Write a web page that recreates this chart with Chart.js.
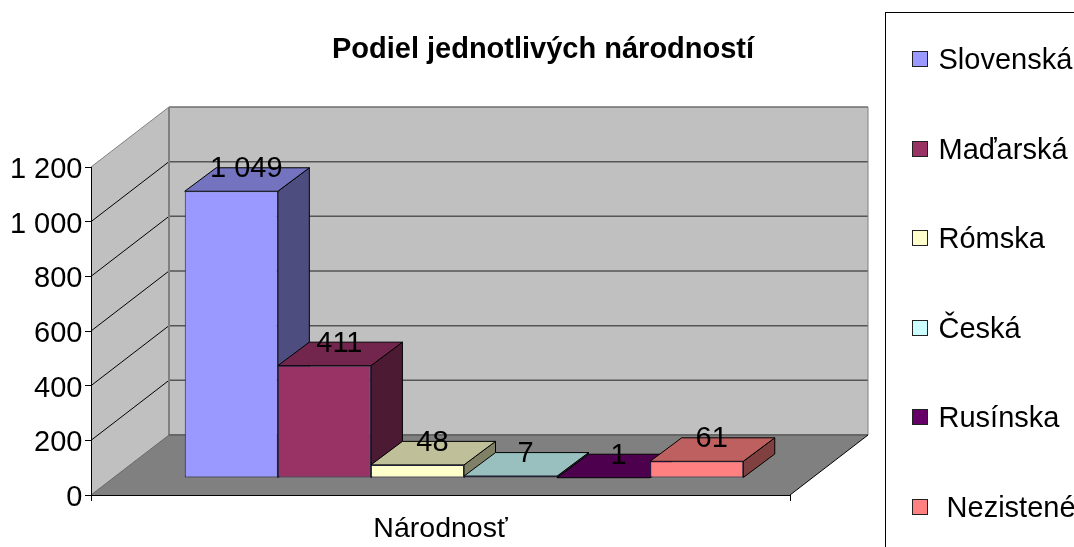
<!DOCTYPE html>
<html>
<head>
<meta charset="utf-8">
<style>html,body{margin:0;padding:0;background:#fff;overflow:hidden}canvas{display:block}</style>
<script src="https://cdn.jsdelivr.net/npm/chart.js@4"></script>
</head>
<body>
<canvas id="c" width="1074" height="547"></canvas>
<script>
const chartTitle = 'Podiel jednotlivých národností';
const categories = ['Národnosť'];
const seriesNames = ['Slovenská', 'Maďarská', 'Rómska', 'Česká', 'Rusínska', ' Nezistené'];
const seriesValues = [1049, 411, 48, 7, 1, 61];
const seriesColors = ['#9999ff', '#993366', '#ffffcc', '#ccffff', '#660066', '#ff8080'];
const seriesTops = ['#7373bf', '#73264d', '#bfbf99', '#99bfbf', '#4d004d', '#bf6060'];
const seriesSides = ['#4d4d80', '#4d1a33', '#808066', '#668080', '#330033', '#804040'];
const FONT = '"Liberation Sans", Arial, sans-serif';
const WALL = { dx: 78, dy: -60 };
const BAR = { dx: 23.5, dy: -17, depthX: 31.5, depthY: -23.5 };
const fmt = v => String(v).replace(/\B(?=(\d{3})+$)/g, ' ');

function poly(ctx, pts, fill, stroke, lw) {
  ctx.beginPath();
  pts.forEach((p, i) => i ? ctx.lineTo(p[0], p[1]) : ctx.moveTo(p[0], p[1]));
  ctx.closePath();
  if (fill) { ctx.fillStyle = fill; ctx.fill(); }
  if (stroke) { ctx.strokeStyle = stroke; ctx.lineWidth = lw || 1; ctx.stroke(); }
}
function line(ctx, x1, y1, x2, y2, color, lw) {
  ctx.beginPath(); ctx.moveTo(x1, y1); ctx.lineTo(x2, y2);
  ctx.strokeStyle = color; ctx.lineWidth = lw || 1; ctx.stroke();
}

const scene3d = {
  id: 'scene3d',
  beforeDraw(chart) {
    const { ctx, chartArea: a, scales: { y } } = chart;
    const L = a.left, R = a.right, T = a.top, B = a.bottom;
    const bx = L + WALL.dx, rx = R + WALL.dx, by = B + WALL.dy, ty = T + WALL.dy;
    ctx.save();
    poly(ctx, [[L, T], [bx, ty], [bx, by], [L, B]], '#c0c0c0');
    poly(ctx, [[bx, ty], [rx, ty], [rx, by], [bx, by]], '#c0c0c0');
    poly(ctx, [[L, B], [bx, by], [rx, by], [R, B]], '#808080');
    y.ticks.forEach(t => {
      const p = y.getPixelForValue(t.value);
      if (t.value > 0) {
        line(ctx, bx, p + WALL.dy, rx, p + WALL.dy, t.value === y.max ? '#6e6e6e' : '#555555', 1.5);
        line(ctx, L, p, bx, p + WALL.dy, t.value === y.max ? '#808080' : '#000000', 1);
      }
    });
    line(ctx, bx, ty, bx, by, '#808080', 2);
    line(ctx, rx, ty, rx, by, '#808080', 1);
    line(ctx, L, B, bx, by, '#666666', 1);
    line(ctx, bx, by, rx, by, '#666666', 2);
    line(ctx, R, B, rx, by, '#000000', 1);
    ctx.restore();
  },
  beforeDatasetsDraw(chart) {
    const { ctx } = chart;
    ctx.save();
    ctx.translate(BAR.dx, BAR.dy);
    ctx.lineJoin = 'round';
    seriesValues.forEach((v, i) => {
      const el = chart.getDatasetMeta(i).data[0];
      const l = el.x - el.width / 2, r = el.x + el.width / 2, t = el.y, b = el.base;
      const dx = BAR.depthX, dy = BAR.depthY;
      poly(ctx, [[r, t], [r + dx, t + dy], [r + dx, b + dy], [r, b]], seriesSides[i], '#000000', 1);
      poly(ctx, [[l, t], [l + dx, t + dy], [r + dx, t + dy], [r, t]], seriesTops[i], '#000000', 1);
    });
  },
  afterDatasetsDraw(chart) {
    const { ctx, scales: { y } } = chart;
    ctx.restore();
    ctx.save();
    ctx.fillStyle = '#000';
    ctx.font = '29px ' + FONT;
    ctx.textBaseline = 'middle';
    ctx.textAlign = 'right';
    y.ticks.forEach(t => ctx.fillText(t.label, 82.5, y.getPixelForValue(t.value) + 3));
    ctx.textAlign = 'center';
    seriesValues.forEach((v, i) => {
      const el = chart.getDatasetMeta(i).data[0];
      ctx.fillText(fmt(v), el.x + BAR.dx + 15, el.y + BAR.dy - 22);
    });
    ctx.restore();
  },
  afterDraw(chart) {
    const { ctx } = chart;
    ctx.save();
    ctx.fillStyle = '#000';
    ctx.textBaseline = 'middle';
    ctx.textAlign = 'center';
    ctx.font = 'bold 29px ' + FONT;
    ctx.fillText(chartTitle, 543, 50);
    ctx.strokeStyle = '#000';
    ctx.lineWidth = 1;
    ctx.strokeRect(885.5, 12.5, 400, 600);
    ctx.textAlign = 'left';
    ctx.font = '29px ' + FONT;
    seriesNames.forEach((n, i) => {
      const cy = 59 + i * 89.6;
      ctx.fillStyle = seriesColors[i];
      ctx.fillRect(912.5, Math.round(cy) - 7.5, 15, 15);
      ctx.strokeStyle = '#222';
      ctx.strokeRect(912.5, Math.round(cy) - 7.5, 15, 15);
      ctx.fillStyle = '#000';
      ctx.fillText(n, 938.5, cy + 2);
    });
    ctx.restore();
  }
};

new Chart(document.getElementById('c'), {
  type: 'bar',
  data: {
    labels: categories,
    datasets: seriesNames.map((n, i) => ({
      label: n,
      data: [seriesValues[i]],
      backgroundColor: seriesColors[i],
      borderColor: '#22223a',
      borderWidth: 1,
      borderSkipped: false,
      categoryPercentage: 0.799,
      barPercentage: 1,
      clip: false
    }))
  },
  options: {
    responsive: false,
    animation: false,
    layout: { padding: { left: 0, top: 167, right: 284, bottom: 0 } },
    plugins: { legend: { display: false }, title: { display: false }, tooltip: { enabled: false } },
    scales: {
      x: {
        afterFit(s) { s.height = 52; },
        border: { color: '#000', width: 1 },
        grid: { drawOnChartArea: false, drawTicks: true, tickLength: 6, color: '#000' },
        ticks: { color: '#000', font: { family: FONT, size: 28.5 }, padding: 11, maxRotation: 0 }
      },
      y: {
        min: 0, max: 1200,
        afterFit(s) { s.width = 91; },
        border: { color: '#000', width: 1 },
        grid: { drawOnChartArea: false, drawTicks: true, tickLength: 6, color: '#000' },
        ticks: { display: false, stepSize: 200, callback: v => fmt(v) }
      }
    }
  },
  plugins: [scene3d]
});
</script>
</body>
</html>
